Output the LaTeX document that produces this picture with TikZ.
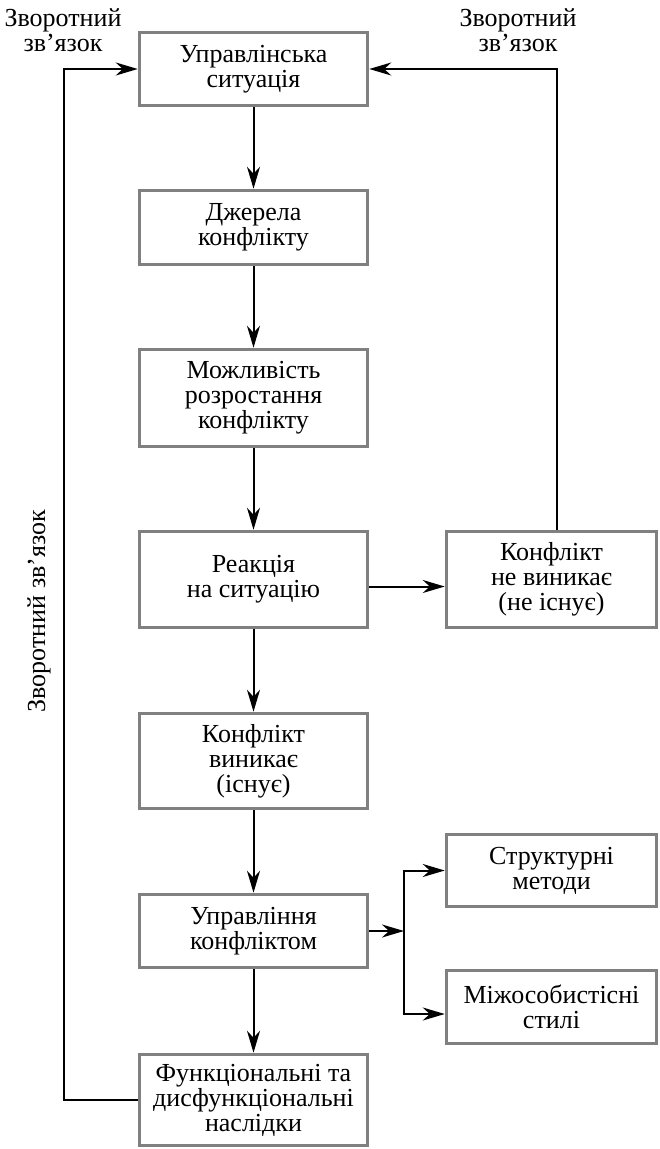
\documentclass[tikz,border=0pt]{standalone}
\usepackage{fontspec}
\setmainfont{Liberation Serif}
\usetikzlibrary{
  arrows.meta,
  chains,
  positioning,
  scopes
}
\newcommand\blocksize{\fontsize{26}{25}\selectfont}

\begin{document}
\begin{tikzpicture}[x=1pt,y=-1pt,
      block/.style={
         rectangle,
         minimum width=228pt,
         line width=3.5pt,
         draw=black!50,
         fill=white,
         align=center,
         inner sep=0pt,
         font=\blocksize
      },
      side block/.style={block, minimum width=210pt},
      label text/.style={align=center, inner sep=0pt, font=\blocksize},
      point/.style={coordinate},
      >={Stealth[length=22pt,width=13pt,inset=7pt]},line width=2pt,
      tip/.style={->},
      hv path/.style={to path={-| (\tikztotarget)}},
      vh path/.style={to path={|- (\tikztotarget)}}
    ]
    \useasboundingbox (0,0) rectangle (660,1149);
    % main column
    \node (sit)  [block, minimum height=73pt] at (253.5,69)    {Управлінська\\ситуація};
    \node (dzh)  [block, minimum height=74pt] at (253.5,227.5) {Джерела\\конфлікту};
    \node (mozh) [block, minimum height=97pt] at (253.5,398)   {Можливість\\розростання\\конфлікту};
    \node (reak) [block, minimum height=96pt] at (253.5,579.5) {Реакція\\на ситуацію};
    \node (vyn)  [block, minimum height=95pt] at (253.5,761)   {Конфлікт\\виникає\\(існує)};
    \node (upr)  [block, minimum height=73pt] at (253.5,931)   {Управління\\конфліктом};
    \node (nasl) [block, minimum height=91pt] at (253.5,1100)  {Функціональні та\\дисфункціональні\\наслідки};
    % right column
    \node (ne)   [side block, minimum height=96pt] at (551.5,579.5) {Конфлікт\\не виникає\\(не існує)};
    \node (str)  [side block, minimum height=72pt] at (551.5,870.5) {Структурні\\методи};
    \node (mizh) [side block, minimum height=73pt] at (551.5,1007)  {Міжособистісні\\стилі};
    % feedback labels
    \node (fbtl) [label text] at (63,30)  {Зворотний\\зв’язок};
    \node (fbtr) [label text] at (518,30) {Зворотний\\зв’язок};
    \node (fbtv) [label text, rotate=90] at (39,611) {Зворотний зв’язок};
    % turning points
    \node (fbL) [point] at (64,69) {};
    \node (fbR) [point] at (557,69) {};
    \node (br)  [point] at (404,931) {};

  { [start chain]
       \chainin (sit);
       \chainin (dzh)    [join=by tip];
       \chainin (mozh)   [join=by tip];
       \chainin (reak)   [join=by tip];
       \chainin (vyn)    [join=by tip];
       \chainin (upr)    [join=by tip];
       \chainin (nasl)   [join=by tip];
  }
  { [start chain]
       \chainin (upr);
       \chainin (br)     [join=by tip];
       \chainin (str)    [join=by {vh path,tip}];
  }
    \draw[tip] ([yshift=-7pt]reak.east) -- ([yshift=-7pt]reak.east -| ne.west);
    \draw[tip] (br) |- ([yshift=-7pt]mizh.west);
    \draw[tip] (fbR |- ne.north) -- (fbR) -- (sit.east);
    \draw[tip] (nasl.west) -| (fbL) -- (sit.west);
\end{tikzpicture}
\end{document}
